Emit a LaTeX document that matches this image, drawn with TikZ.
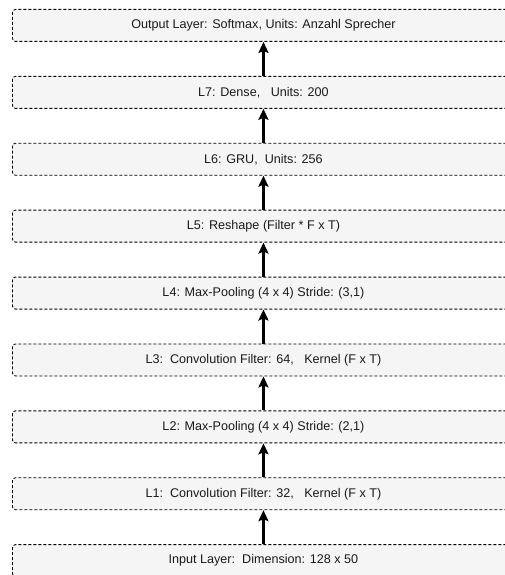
\documentclass[tikz,border=0pt]{standalone}
\usepackage{fontspec}
\setmainfont{Liberation Sans}
\usetikzlibrary{arrows.meta}
\definecolor{boxfill}{HTML}{F5F5F5}
\definecolor{txt}{HTML}{1A1A1A}
\tikzset{
  layerbox/.style={draw=black, fill=boxfill, dash pattern=on 3pt off 2pt, line width=0.9pt,
    rounded corners=3pt, minimum width=502pt, minimum height=32pt, anchor=north west,
    inner sep=0pt, text=txt, font=\fontsize{12.6}{14}\selectfont},
  flow/.style={line width=2.3pt, -{Stealth[length=11pt,width=10pt,inset=2pt]}}
}
\begin{document}
\begin{tikzpicture}[x=1pt,y=-1pt]
\useasboundingbox (0,0) rectangle (505,575);
\clip (0,0) rectangle (505,575);
\fill[white] (0,0) rectangle (505,575);
\node[layerbox] (out) at (12,9) {Output Layer: Softmax, Units: Anzahl Sprecher};
\node[layerbox] (l7) at (12,75.9) {L7: Dense,\ \ \ Units: 200};
\node[layerbox] (l6) at (12,142.8) {L6: GRU,\ \ Units: 256};
\node[layerbox] (l5) at (12,209.7) {L5: Reshape (Filter * F x T)};
\node[layerbox] (l4) at (12,276.6) {L4: Max-Pooling (4 x 4) Stride: (3,1)};
\node[layerbox] (l3) at (12,343.5) {L3:\ \ Convolution Filter: 64,\ \ \ Kernel (F x T)};
\node[layerbox] (l2) at (12,410.4) {L2: Max-Pooling (4 x 4) Stride: (2,1)};
\node[layerbox] (l1) at (12,477.3) {L1:\ \ Convolution Filter: 32,\ \ \ Kernel (F x T)};
\node[layerbox] (in) at (12,544.2) {Input Layer:\ \ Dimension: 128 x 50};
\foreach \a/\b in {in/l1, l1/l2, l2/l3, l3/l4, l4/l5, l5/l6, l6/l7, l7/out}
  \draw[flow] (\a.north) -- (\b.south);
\end{tikzpicture}
\end{document}
